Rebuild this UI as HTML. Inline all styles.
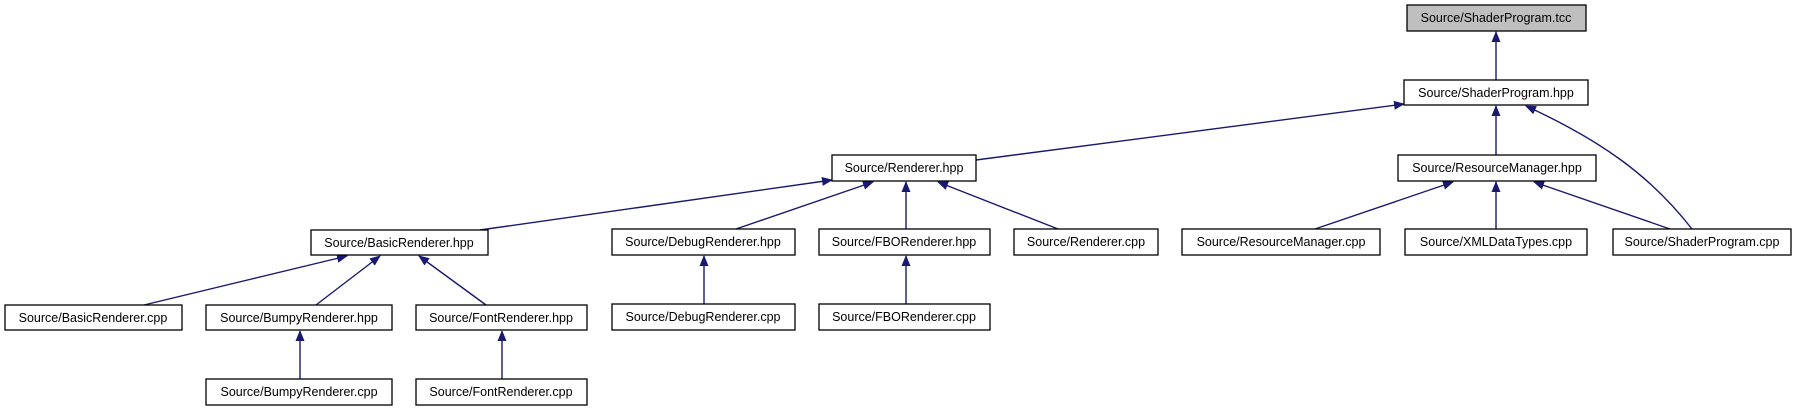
<!DOCTYPE html>
<html><head><meta charset="utf-8"><style>
html,body{margin:0;padding:0;background:#fff;}
svg{display:block;}
text{font-family:"Liberation Sans",Arial,sans-serif;font-size:12.5px;fill:#000;}
</style></head><body>
<svg width="1799" height="411" viewBox="0 0 1799 411" xmlns="http://www.w3.org/2000/svg">
<defs>
<marker id="a" markerWidth="11" markerHeight="9" refX="10" refY="4.5" orient="auto" markerUnits="userSpaceOnUse">
<path d="M0,0 L11,4.5 L0,9 Z" fill="#191970"/>
</marker>
</defs>
<g stroke="#191970" stroke-width="1.4" fill="none" marker-end="url(#a)">
<line x1="1496" y1="80" x2="1496" y2="32"/>
<line x1="976" y1="160" x2="1404" y2="104"/>
<line x1="1496" y1="155" x2="1496" y2="106"/>
<path d="M1692,229 C1650,175 1600,140 1526,106"/>
<line x1="1315" y1="229" x2="1453" y2="182"/>
<line x1="1496" y1="229" x2="1496" y2="182"/>
<line x1="1670" y1="229" x2="1534" y2="182"/>
<line x1="480" y1="230" x2="832" y2="180"/>
<line x1="736" y1="229" x2="873" y2="182"/>
<line x1="906" y1="229" x2="906" y2="182"/>
<line x1="1058" y1="229" x2="938" y2="182"/>
<line x1="144" y1="305" x2="347" y2="256"/>
<line x1="316" y1="305" x2="380" y2="256"/>
<line x1="486" y1="305" x2="419" y2="256"/>
<line x1="300" y1="379" x2="300" y2="331"/>
<line x1="502" y1="379" x2="502" y2="331"/>
<line x1="704" y1="304" x2="704" y2="256"/>
<line x1="906" y1="304" x2="906" y2="256"/>
</g>
<g stroke="#000" stroke-width="1.3">
<rect x="1407" y="5" width="179" height="26" fill="#bfbfbf"/>
<rect x="1404" y="80" width="184" height="25" fill="#fff"/>
<rect x="1398" y="155" width="198" height="26" fill="#fff"/>
<rect x="832" y="155" width="144" height="26" fill="#fff"/>
<rect x="311" y="230" width="177" height="25" fill="#fff"/>
<rect x="612" y="229" width="183" height="26" fill="#fff"/>
<rect x="819" y="229" width="171" height="26" fill="#fff"/>
<rect x="1014" y="229" width="144" height="26" fill="#fff"/>
<rect x="1182" y="229" width="198" height="26" fill="#fff"/>
<rect x="1405" y="229" width="182" height="26" fill="#fff"/>
<rect x="1613" y="229" width="178" height="26" fill="#fff"/>
<rect x="5" y="305" width="177" height="25" fill="#fff"/>
<rect x="206" y="305" width="186" height="25" fill="#fff"/>
<rect x="416" y="305" width="171" height="25" fill="#fff"/>
<rect x="612" y="304" width="183" height="26" fill="#fff"/>
<rect x="819" y="304" width="171" height="26" fill="#fff"/>
<rect x="206" y="379" width="186" height="26" fill="#fff"/>
<rect x="416" y="379" width="171" height="26" fill="#fff"/>
</g>
<g text-anchor="middle">
<text x="1496" y="22">Source/ShaderProgram.tcc</text>
<text x="1496" y="97">Source/ShaderProgram.hpp</text>
<text x="1497" y="172">Source/ResourceManager.hpp</text>
<text x="904" y="172">Source/Renderer.hpp</text>
<text x="399" y="247">Source/BasicRenderer.hpp</text>
<text x="703" y="246">Source/DebugRenderer.hpp</text>
<text x="904" y="246">Source/FBORenderer.hpp</text>
<text x="1086" y="246">Source/Renderer.cpp</text>
<text x="1281" y="246">Source/ResourceManager.cpp</text>
<text x="1496" y="246">Source/XMLDataTypes.cpp</text>
<text x="1702" y="246">Source/ShaderProgram.cpp</text>
<text x="93" y="322">Source/BasicRenderer.cpp</text>
<text x="299" y="322">Source/BumpyRenderer.hpp</text>
<text x="501" y="322">Source/FontRenderer.hpp</text>
<text x="703" y="321">Source/DebugRenderer.cpp</text>
<text x="904" y="321">Source/FBORenderer.cpp</text>
<text x="299" y="396">Source/BumpyRenderer.cpp</text>
<text x="501" y="396">Source/FontRenderer.cpp</text>
</g>
</svg>
</body></html>
